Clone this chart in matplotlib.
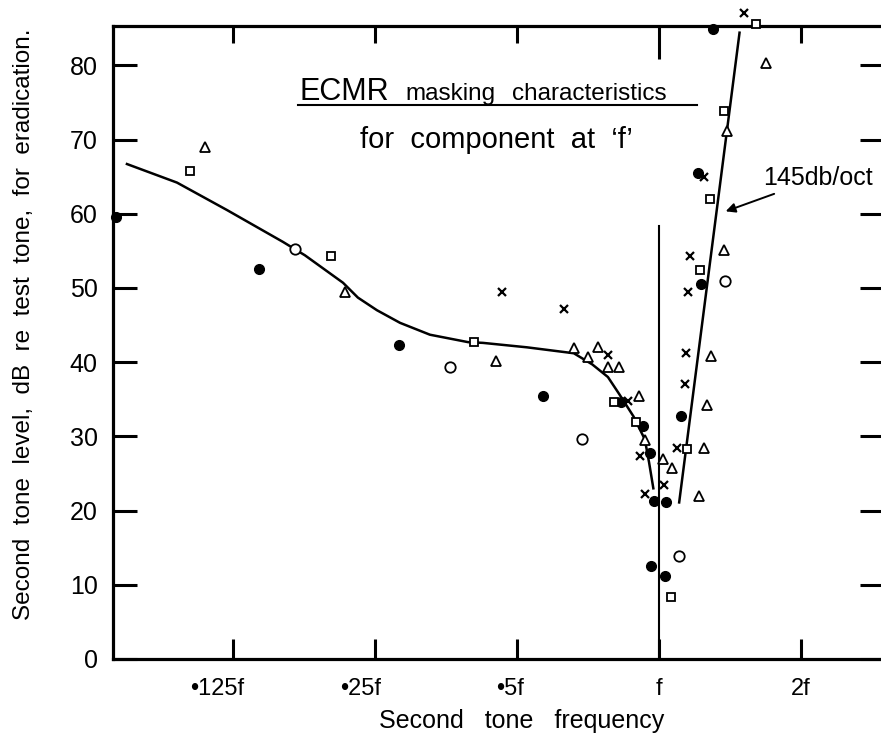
import matplotlib.pyplot as plt
from matplotlib.lines import Line2D
from matplotlib.ticker import NullLocator
from matplotlib.transforms import ScaledTranslation

plt.rcParams['font.family'] = ['Liberation Sans', 'DejaVu Sans']

# frequency as multiple of f, level in dB
dot_x = [0.0705, 0.1416, 0.2813, 0.568, 0.829, 0.925, 0.957, 0.976, 1.035, 0.961, 1.030, 1.114, 1.229, 1.212, 1.304]
dot_y = [59.6, 52.6, 42.3, 35.5, 34.6, 31.4, 27.7, 21.3, 21.1, 12.5, 11.2, 32.8, 50.6, 65.5, 84.9]

circ_x = [0.1696, 0.361, 0.688, 1.103, 1.377]
circ_y = [55.3, 39.4, 29.7, 13.9, 50.9]

sq_x = [0.1015, 0.2017, 0.4047, 0.801, 0.893, 1.148, 1.061, 1.223, 1.285, 1.370, 1.602]
sq_y = [65.7, 54.3, 42.7, 34.6, 31.9, 28.3, 8.4, 52.4, 62.0, 73.9, 85.6]

tri_x = [0.1088, 0.2161, 0.4506, 0.6598, 0.7071, 0.7423, 0.7792, 0.8235, 0.9075, 0.933,
         1.021, 1.064, 1.248, 1.214, 1.266, 1.292, 1.370, 1.395, 1.682]
tri_y = [69.0, 49.4, 40.2, 41.9, 40.7, 42.0, 39.3, 39.3, 35.4, 29.5,
         26.9, 25.7, 28.4, 22.0, 34.2, 40.8, 55.1, 71.1, 80.3]

cross_x = [0.4646, 0.6285, 0.7792, 0.8586, 0.9107, 0.933, 1.0246, 1.0928, 1.1361, 1.1408, 1.1535, 1.1647, 1.2483, 1.5157]
cross_y = [49.4, 47.2, 40.9, 34.7, 27.3, 22.3, 23.4, 28.4, 37.1, 41.2, 49.5, 54.3, 65.0, 87.1]

# hand drawn curve below f
curve_x = [0.0745, 0.0951, 0.1214, 0.1596, 0.1776, 0.2139, 0.2300, 0.2524, 0.2825, 0.3269, 0.3937, 0.4234, 0.525,
           0.6598, 0.7219, 0.7792, 0.8235, 0.8827, 0.933, 0.9526, 0.9727]
curve_y = [66.7, 64.2, 60.5, 56.2, 54.4, 50.7, 48.7, 47.0, 45.3, 43.7, 42.7, 42.6, 42.0,
           41.2, 39.7, 38.0, 35.7, 32.7, 29.6, 26.5, 23.0]

# 145 db/oct line above f
steep_x = [1.1034, 1.4815]
steep_y = [21.1, 84.4]

x_ticks = [0.125, 0.25, 0.5, 1, 2]
x_labels = ['•125f', '•25f', '•5f', 'f', '2f']
y_ticks = [0, 10, 20, 30, 40, 50, 60, 70, 80]

W, H = 881, 742
fig = plt.figure(figsize=(W / 100, H / 100), dpi=100)
ax = fig.add_axes([113 / W, 1 - 659 / H, 1 - 113 / W, (659 - 26) / H])

ax.plot(curve_x, curve_y, color='black', lw=1.8, zorder=2)
ax.plot(steep_x, steep_y, color='black', lw=1.8, zorder=2)
ax.plot([1, 1], [0, 58.3], color='black', lw=1.5, zorder=2)

ax.plot(dot_x, dot_y, 'o', ms=7, mfc='black', mec='black', ls='none', zorder=3, clip_on=False)
ax.plot(circ_x, circ_y, 'o', ms=7.5, mfc='white', mec='black', mew=1.3, ls='none', zorder=3)
ax.plot(sq_x, sq_y, 's', ms=6, mfc='white', mec='black', mew=1.3, ls='none', zorder=3, clip_on=False)
ax.plot(tri_x, tri_y, '^', ms=6.5, mfc='white', mec='black', mew=1.3, ls='none', zorder=3)
ax.plot(cross_x, cross_y, 'x', ms=6, mec='black', mew=1.6, ls='none', zorder=3, clip_on=False)

ax.set_xscale('log', base=2)
ax.set_xlim(0.0696, 2.955)
ax.set_ylim(0, 85.3)
ax.set_xticks(x_ticks)
ax.set_xticklabels(x_labels)
ax.xaxis.set_minor_locator(NullLocator())
ax.set_yticks(y_ticks)

ax.spines['right'].set_visible(False)
for s in ['left', 'bottom', 'top']:
    ax.spines[s].set_linewidth(2.3)

ax.tick_params(axis='both', direction='in', width=2.2)
ax.tick_params(axis='x', length=14.5, top=True, bottom=True, pad=14, labelsize=17)
ax.tick_params(axis='y', length=17, left=True, right=True, pad=11, labelsize=18)

for i, t in enumerate(ax.xaxis.get_major_ticks()):
    t.tick2line.set_markersize(24 if x_ticks[i] == 1 else 12)
for t in ax.yaxis.get_major_ticks():
    t.tick2line.set_markersize(15)

# the dotted labels sit a little left of their ticks
for lab, dx in zip(ax.get_xticklabels(), [-16, -14, -7, 0, 0]):
    lab.set_transform(lab.get_transform() + ScaledTranslation(dx / 100, 0, fig.dpi_scale_trans))

ax.annotate('145db/oct', xy=(1.367, 60.2), xytext=(1.661, 64.8), fontsize=18,
            ha='left', va='center',
            arrowprops=dict(arrowstyle='-|>', color='black', lw=1.4, mutation_scale=14))

fig.text(300 / W, 1 - 100 / H, 'ECMR', fontsize=22, ha='left', va='baseline')
fig.text(405 / W, 1 - 100 / H, 'masking', fontsize=17.5, ha='left', va='baseline')
fig.text(512 / W, 1 - 100 / H, 'characteristics', fontsize=17.5, ha='left', va='baseline')
fig.add_artist(Line2D([298 / W, 697 / W], [1 - 105 / H, 1 - 105 / H], color='black', lw=1.5))
fig.text(496 / W, 1 - 148 / H, 'for  component  at  ‘f’', fontsize=21, ha='center', va='baseline')

fig.text(24 / W, 1 - 324 / H, 'Second  tone  level,  dB  re  test  tone,  for  eradication.',
         rotation=90, fontsize=17.5, ha='center', va='center')
fig.text(522 / W, 1 - 721 / H, 'Second   tone   frequency', fontsize=18, ha='center', va='center')

fig.savefig('out.png', dpi=100)
